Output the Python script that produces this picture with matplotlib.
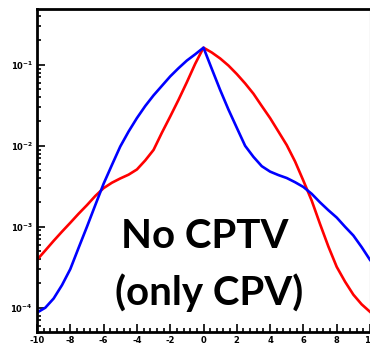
#!/usr/bin/env python3
"""Log-scale profile plot: red vs blue distributions, 'No CPTV (only CPV)'."""

import matplotlib

matplotlib.use("Agg")
import matplotlib.pyplot as plt
import numpy as np
from matplotlib.ticker import FixedLocator, LogLocator, NullFormatter

x_vals = np.arange(-10.0, 10.01, 0.5)

red_vals = [
    3.9e-4, 5.1e-4, 6.7e-4, 8.7e-4, 1.12e-3, 1.45e-3, 1.85e-3, 2.4e-3, 3.0e-3, 3.5e-3,
    3.95e-3, 4.4e-3, 5.1e-3, 6.6e-3, 8.9e-3, 1.45e-2, 2.3e-2, 3.7e-2, 6.1e-2, 0.103,
    0.163,
    0.142, 0.12, 9.8e-2, 7.7e-2, 5.9e-2, 4.4e-2, 3.1e-2, 2.2e-2, 1.5e-2, 1.02e-2,
    6.4e-3, 3.7e-3, 2.1e-3, 1.08e-3, 5.7e-4, 3.2e-4, 2.1e-4, 1.45e-4, 1.1e-4, 8.9e-5,
]
blue_vals = [
    8.7e-5, 1.0e-4, 1.3e-4, 1.9e-4, 3.0e-4, 5.5e-4, 1.0e-3, 1.85e-3, 3.4e-3, 5.8e-3,
    9.8e-3, 1.5e-2, 2.2e-2, 3.1e-2, 4.2e-2, 5.5e-2, 7.2e-2, 9.1e-2, 0.113, 0.135,
    0.163,
    8.9e-2, 4.9e-2, 2.8e-2, 1.67e-2, 1.0e-2, 7.3e-3, 5.6e-3, 4.8e-3, 4.35e-3, 4.0e-3,
    3.55e-3, 3.1e-3, 2.55e-3, 2.0e-3, 1.6e-3, 1.3e-3, 1.0e-3, 7.8e-4, 5.6e-4, 3.9e-4,
]

x_ticks = [-10, -8, -6, -4, -2, 0, 2, 4, 6, 8, 10]
y_ticks = [1e-4, 1e-3, 1e-2, 1e-1]
y_tick_labels = [r"$\mathbf{10^{-4}}$", r"$\mathbf{10^{-3}}$", r"$\mathbf{10^{-2}}$", r"$\mathbf{10^{-1}}$"]

W, H = 370, 344
fig = plt.figure(figsize=(W / 100, H / 100), dpi=100)
ax = fig.add_axes([37 / W, 1 - 332 / H, (370 - 37) / W, (332 - 9) / H])

ax.plot(x_vals, red_vals, color="#ff0000", lw=1.9, solid_joinstyle="round")
ax.plot(x_vals, blue_vals, color="#0000ff", lw=1.9, solid_joinstyle="round")

ax.set_yscale("log")
ax.set_xlim(-10, 10)
ax.set_ylim(10 ** -4.3, 10 ** -0.31)

ax.set_xticks(x_ticks)
ax.set_xticklabels([str(t) for t in x_ticks], fontweight="bold", fontsize=6)
ax.xaxis.set_minor_locator(FixedLocator(np.arange(-10, 10.01, 0.4)))
ax.set_yticks(y_ticks)
ax.set_yticklabels(y_tick_labels, fontsize=6)
ax.yaxis.set_minor_locator(LogLocator(base=10, subs=np.arange(2, 10)))
ax.yaxis.set_minor_formatter(NullFormatter())

ax.tick_params(which="both", direction="in", top=False, right=False, width=1.2, colors="black")
ax.tick_params(which="major", length=6, pad=3)
ax.tick_params(which="minor", length=3)

for side in ["left", "bottom", "top"]:
    ax.spines[side].set_linewidth(2.0)
ax.spines["right"].set_linewidth(0.8)
ax.spines["right"].set_color("#888888")

label_font = dict(fontsize=29, fontweight="bold", family=["Lato", "DejaVu Sans"],
                  ha="center", va="baseline", transform=fig.transFigure)
fig.text(205 / W, 1 - 248 / H, "No CPTV", **label_font)
fig.text(209 / W, 1 - 305 / H, "(only CPV)", **label_font)

fig.savefig("out.png", dpi=100)
